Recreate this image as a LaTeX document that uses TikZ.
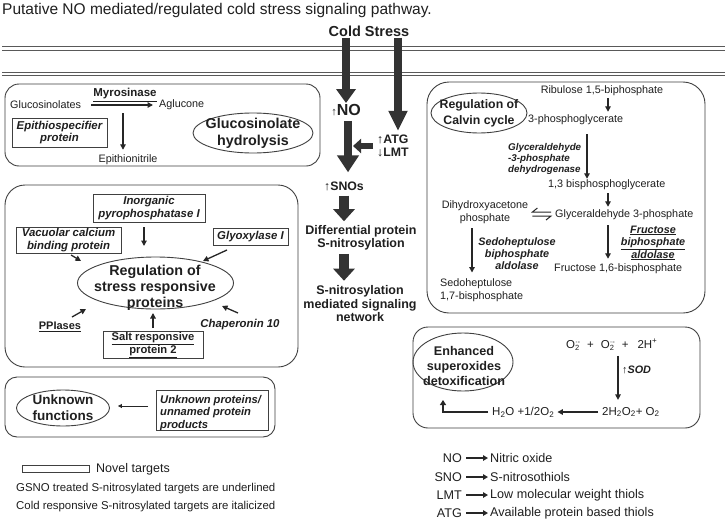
\documentclass[tikz,border=0pt]{standalone}
\usepackage{fontspec}
\setmainfont{Liberation Sans}
\usetikzlibrary{arrows.meta,shapes.geometric,calc}
\newcommand{\ssb}[2]{\rlap{\raisebox{-2.5pt}{\fontsize{7.5}{7.5}\selectfont #2}}\raisebox{3.5pt}{\fontsize{7.5}{7.5}\selectfont #1}}
\tikzset{
 bigbox/.style={draw=black!75, line width=0.9pt, rounded corners=14pt, inner sep=0pt},
 nbox/.style={draw=black!75, line width=0.9pt, inner sep=1pt},
 ell/.style={ellipse, draw=black!75, line width=0.9pt, inner sep=0pt},
 small/.style={font=\fontsize{10.8}{12.5}\selectfont},
 bi/.style={font=\fontsize{11.4}{12.5}\selectfont\bfseries\itshape},
 lab/.style={font=\fontsize{13.5}{16}\selectfont\bfseries},
 cen/.style={font=\fontsize{12.5}{13.5}\selectfont\bfseries},
 leg/.style={font=\fontsize{11.4}{13}\selectfont},
 legr/.style={font=\fontsize{12.6}{14}\selectfont},
 tarrow/.style={draw=black!85, line width=1.3pt, -{Triangle[width=5.5pt,length=5.5pt]}},
 fat/.style={draw=black!80, line width=8pt, -{Triangle[width=19pt,length=14pt]}},
 membrane/.style={draw=black!65, line width=1pt},
}
\begin{document}
\begin{tikzpicture}[x=1pt,y=-1pt, every node/.style={inner sep=1pt, text=black!88}]
\useasboundingbox (0,0) rectangle (725,522);
\fill[white] (0,0) rectangle (725,522);

% title
\node[anchor=west, font=\fontsize{15.5}{17}\selectfont] (title) at (1,10) {Putative NO mediated/regulated cold stress signaling pathway.};

% membrane
\draw[membrane] (2,46.5) -- (725,46.5);
\draw[membrane] (2,50) -- (725,50);
\draw[membrane] (2,72) -- (725,72);
\draw[membrane] (2,75.5) -- (725,75.5);

% central column
\node[font=\fontsize{14.5}{16}\selectfont\bfseries] (cold) at (369,31) {Cold Stress};
\node[font=\fontsize{16}{18}\selectfont\bfseries] (no) at (346,110) {{\fontsize{11}{11}\selectfont ↑}NO};
\node[font=\fontsize{12.3}{13}\selectfont\bfseries, align=left, anchor=west] (atg) at (376,146) {↑ATG\\↓LMT};
\node[font=\fontsize{12.3}{13}\selectfont\bfseries] (snos) at (344,186) {↑SNOs};
\node[cen, align=center] (diff) at (361,238) {Differential protein\\S-nitrosylation};
\node[cen, align=center] (net) at (360,304) {S-nitrosylation\\mediated signaling\\network};

\coordinate (c1) at (cold.south -| no);
\coordinate (c2) at ($(cold.south)+(29,0)$);
\coordinate (hh) at (353,146);
\draw[fat] (c1) -- (c1 |- no.north);
\draw[fat, -{Triangle[width=18pt,length=20pt]}, shorten >=3pt] (c2) -- (c2 |- atg.north);
\draw[fat, -{Triangle[width=21pt,length=17pt]}, shorten <=4pt, shorten >=8pt] ($(no.south)+(2,0)$) -- ($(snos.north)+(4,0)$);
\draw[draw=black!80, line width=6pt, -{Triangle[width=14pt,length=8pt]}] ($(atg.west)+(-3,0)$) -- (hh);
\draw[draw=black!80, line width=10pt, -{Triangle[width=21pt,length=12pt]}, shorten <=4pt, shorten >=3pt] (snos.south) -- (snos.south |- diff.north);
\draw[draw=black!80, line width=10pt, -{Triangle[width=21pt,length=12pt]}, shorten <=2pt, shorten >=4pt] (snos.south |- diff.south) -- (snos.south |- net.north);

% glucosinolate box
\node[bigbox, minimum width=315pt, minimum height=82pt] (glbox) at (162.5,125) {};
\node[font=\fontsize{11.5}{12.5}\selectfont\bfseries, inner sep=0.5pt] (myro) at (125,95) {\underline{Myrosinase}};
\node[small, anchor=west] (gluc) at (9,105) {Glucosinolates};
\node[small, anchor=west] (aglu) at (158,105) {Aglucone};
\draw[tarrow, shorten <=9pt, shorten >=5pt] (gluc.east) -- (aglu.west);
\node[small] (epi) at (128,160) {Epithionitrile};
\coordinate (vt) at (123,113);
\draw[tarrow, shorten >=4pt] (vt) -- (vt |- epi.north);
\node[nbox, bi, align=center, minimum width=95pt, minimum height=29pt] (esp) at (59.5,132.5) {Epithiospecifier\\protein};
\node[ell, minimum width=120pt, minimum height=40pt] (glell) at (253,133) {};
\node[align=center, font=\fontsize{14.3}{17}\selectfont\bfseries] (glt) at (glell) {Glucosinolate\\hydrolysis};

% stress box
\node[bigbox, rounded corners=20pt, minimum width=293pt, minimum height=182pt] (stbox) at (151.5,276) {};
\node[nbox, bi, align=center, minimum width=112pt, minimum height=28pt] (inorg) at (149,208) {Inorganic\\pyrophosphatase I};
\node[nbox, bi, align=center, minimum width=105pt, minimum height=26pt] (vac) at (68.5,240) {Vacuolar calcium\\binding protein};
\node[nbox, bi, minimum width=75pt, minimum height=17pt] (glyox) at (250.5,236.5) {Glyoxylase I};
\node[ell, minimum width=156pt, minimum height=52pt] (stell) at (155.5,283) {};
\node[align=center, font=\fontsize{14.3}{16}\selectfont\bfseries] (stt) at (155,288) {Regulation of\\stress responsive\\proteins};
\node[font=\fontsize{11}{12.5}\selectfont\bfseries] (ppi) at (60,327) {\underline{PPIases}};
\node[bi] (chap) at (240,325) {Chaperonin 10};
\node[nbox, align=center, font=\fontsize{11.2}{12.5}\selectfont\bfseries, minimum width=100pt, minimum height=26pt] (salt) at (153,345) {\underline{Salt responsive}\\\underline{protein 2}};
\coordinate (i2) at (144,246);
\coordinate (v2) at (81,261);
\coordinate (g1) at (227,250);
\coordinate (g2) at (203,261);
\coordinate (p1) at (72,317);
\coordinate (p2) at (86,309);
\coordinate (k1) at (238,313);
\coordinate (k2) at (222,306);
\coordinate (s2) at (153,313);
\draw[tarrow, shorten <=5pt] (inorg.south -| i2) -- (i2);
\draw[tarrow, shorten <=3pt] (vac.south) -- (v2);
\draw[tarrow] (g1) -- (g2);
\draw[tarrow] (p1) -- (p2);
\draw[tarrow] (k1) -- (k2);
\draw[tarrow, shorten <=3pt] (salt.north) -- (s2);

% unknown box
\node[bigbox, rounded corners=12pt, minimum width=270pt, minimum height=60pt] (unkbox) at (140,407) {};
\node[ell, minimum width=93pt, minimum height=36pt] (unkell) at (63,408) {};
\node[lab, align=center] (unkt) at (unkell) {Unknown\\functions};
\node[nbox, minimum width=112pt, minimum height=40pt] (unkp) at (212,410) {};
\node[align=left, anchor=north west, font=\fontsize{11.2}{12.5}\selectfont\bfseries\itshape] (unkpt) at (159,394) {Unknown proteins/\\unnamed protein\\products};
\coordinate (u1) at (148,406);
\draw[draw=black!85, line width=0.9pt, -{Triangle[width=4pt,length=4pt]}, shorten >=8pt] (u1) -- (u1 -| unkell.east);

% legend left
\node[draw=black!75, line width=0.9pt, minimum width=67pt, minimum height=7pt, inner sep=0pt] (lgbox) at (55.5,468.5) {};
\node[anchor=west, font=\fontsize{12.5}{14}\selectfont] (lg1) at (95,469) {Novel targets};
\node[leg, anchor=west] (lg2) at (15,489) {GSNO treated S-nitrosylated targets are underlined};
\node[leg, anchor=west] (lg3) at (15,507) {Cold responsive S-nitrosylated targets are italicized};

% Calvin box
\node[bigbox, rounded corners=22pt, minimum width=278pt, minimum height=231pt] (cbox) at (566,197.5) {};
\node[ell, minimum width=96pt, minimum height=40pt] (cell) at (479,113) {};
\node[align=center, font=\fontsize{12.3}{16}\selectfont\bfseries] (ctext) at (cell) {Regulation of\\Calvin cycle};
\coordinate (colA) at (608,0);
\coordinate (colB) at (587,0);
\coordinate (colC) at (472,0);
\node[small] (rub) at (602,91) {Ribulose 1,5-biphosphate};
\node[small, anchor=west] (pga) at (527,120) {3-phosphoglycerate};
\node[align=left, anchor=north west, font=\fontsize{9.8}{11}\selectfont\bfseries\itshape] (gapdh) at (507,142) {Glyceraldehyde\\-3-phosphate\\dehydrogenase};
\node[small, anchor=west] (bpg) at (547,185) {1,3 bisphosphoglycerate};
\node[small, anchor=west] (g3p) at (554,215) {Glyceraldehyde 3-phosphate};
\node[small, align=center] (dhap) at (485,212) {Dihydroxyacetone\\phosphate};
\node[align=center, font=\fontsize{10.8}{12}\selectfont\bfseries\itshape] (sbpa) at (517,254) {Sedoheptulose\\biphosphate\\aldolase};
\node[small, align=left, anchor=west] (sed) at (439,290) {Sedoheptulose\\1,7-bisphosphate};
\node[align=center, font=\fontsize{10.8}{12.5}\selectfont\bfseries\itshape] (fbpa) at (653,243) {\underline{Fructose}\\\underline{biphosphate}\\\underline{aldolase}};
\node[small, anchor=west] (fbp) at (553,269) {Fructose 1,6-bisphosphate};
\draw[tarrow, shorten <=1pt, shorten >=2pt] (rub.south -| colA) -- (pga.north -| colA);
\draw[tarrow, shorten <=8pt] (pga.south -| colB) -- (bpg.north -| colB);
\draw[tarrow, shorten <=2pt, shorten >=2pt] (bpg.south -| colA) -- (g3p.north -| colA);
\draw[tarrow, shorten <=4pt, shorten >=4pt] (g3p.south -| colA) -- (fbp.north -| colA);
\draw[tarrow, shorten <=4pt, shorten >=5pt] (dhap.south -| colC) -- (sed.north -| colC);
\coordinate (eqL) at ($(dhap.east)+(3,0)$);
\coordinate (eqR) at ($(g3p.west)+(-3,0)$);
\draw[draw=black!85, line width=1pt] (eqR |- 0,212) -- (eqL |- 0,212) -- ++(5,-4);
\draw[draw=black!85, line width=1pt] (eqL |- 0,216) -- (eqR |- 0,216) -- ++(-5,4);

% superoxide box
\node[bigbox, rounded corners=15pt, minimum width=287pt, minimum height=101pt] (sbox) at (556.5,377.5) {};
\node[ell, minimum width=100pt, minimum height=58pt] (sell) at (463,362) {};
\node[align=center, font=\fontsize{12.6}{15}\selectfont\bfseries] (stext) at (464,366) {Enhanced\\superoxides\\detoxification};
\node[font=\fontsize{11.5}{13}\selectfont, anchor=west] (o2) at (565,345) {O\ssb{·-}{2}\hspace{7pt}+\hspace{7pt}O\ssb{·-}{2}\hspace{7pt}+\hspace{9pt}2H\textsuperscript{+}};
\node[font=\fontsize{11.5}{13}\selectfont, anchor=west] (h2o2) at (601,412) {2H\textsubscript{2}O\textsubscript{2}+ O\textsubscript{2}};
\node[font=\fontsize{11.5}{13}\selectfont, anchor=west] (h2o) at (491,412) {H\textsubscript{2}O +1/2O\textsubscript{2}};
\node[font=\fontsize{10.8}{12}\selectfont\bfseries, anchor=west] (sod) at (621,370) {↑\textit{SOD}};
\coordinate (colD) at (618,0);
\coordinate (el) at (443,400);
\draw[tarrow, shorten <=4pt, shorten >=6pt] (o2.south -| colD) -- (h2o2.north -| colD);
\draw[tarrow, shorten <=3pt, shorten >=2pt] (h2o2.west) -- (h2o.east);
\draw[draw=black!85, line width=1.8pt, -{Triangle[width=6pt,length=5pt]}, shorten <=3pt] (h2o.west) -| (el);

% legend right
\foreach \n/\a/\b/\y in {lno/NO/Nitric oxide/458, lsno/SNO/S-nitrosothiols/477, llmt/LMT/Low molecular weight thiols/495, latg/ATG/Available protein based thiols/513}{
  \node[legr, anchor=east] (\n) at (463,\y) {\a};
  \node[legr, anchor=west] (\n t) at (489,\y) {\b};
  \draw[draw=black!85, line width=1.5pt, -{Triangle[width=5.5pt,length=5pt]}, shorten <=3pt, shorten >=1pt] (\n.east) -- (\n t.west);
}
\end{tikzpicture}
\end{document}
